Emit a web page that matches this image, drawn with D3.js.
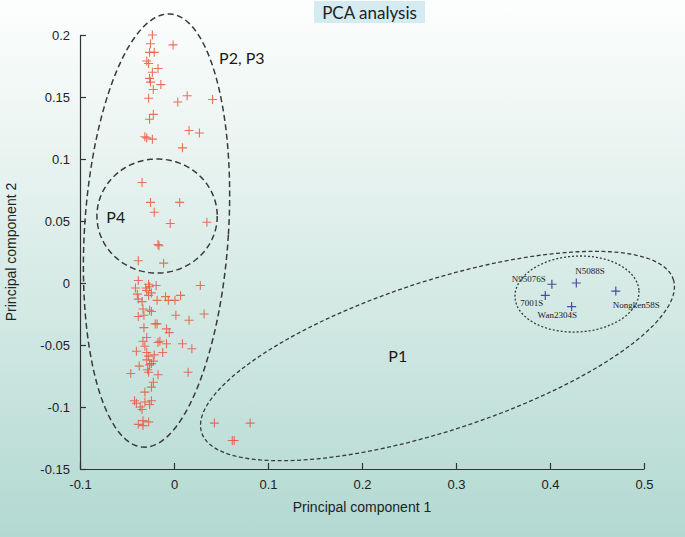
<!DOCTYPE html>
<html>
<head>
<meta charset="utf-8">
<script src="https://cdn.jsdelivr.net/npm/d3@7"></script>
<style>
  html, body { margin: 0; padding: 0; }
  svg { display: block; }
</style>
</head>
<body>
<script>
// ---------------- DATA ----------------
const title = "PCA analysis";
const xLabel = "Principal component 1";
const yLabel = "Principal component 2";
const xTicks = [-0.1, 0, 0.1, 0.2, 0.3, 0.4, 0.5];
const yTicks = [0.2, 0.15, 0.1, 0.05, 0, -0.05, -0.1, -0.15];
const xTickLabels = ["-0.1", "0", "0.1", "0.2", "0.3", "0.4", "0.5"];
const yTickLabels = ["0.2", "0.15", "0.1", "0.05", "0", "-0.05", "-0.1", "-0.15"];

// red samples: [PC1, PC2]
const redX = [
  -0.023,-0.025,-0.001,-0.026,-0.021,-0.029,-0.027,-0.017,-0.023,-0.026,
  -0.025,-0.014,-0.022,0.014,-0.027,0.004,0.041,-0.022,-0.026,0.016,
  0.027,-0.031,-0.029,-0.023,0.009,-0.034,-0.025,0.006,-0.021,-0.004,
  0.035,-0.017,-0.016,-0.038,-0.011,
  -0.038,-0.041,-0.027,-0.030,-0.026,-0.019,-0.029,-0.039,-0.027,-0.024,
  -0.038,-0.034,-0.018,-0.009,-0.006,0.001,0.007,0.028,-0.033,-0.026,
  -0.024,-0.038,-0.032,0.002,0.016,0.032,-0.018,-0.020,-0.032,-0.008,
  -0.005,-0.029,-0.033,-0.031,-0.017,-0.015,-0.008,0.009,0.019,-0.040,
  -0.029,-0.027,-0.021,-0.012,-0.029,-0.024,-0.022,-0.026,-0.037,-0.046,
  -0.028,-0.027,-0.017,0.015,-0.022,-0.024,-0.031,-0.042,-0.040,-0.031,
  -0.024,-0.026,-0.036,-0.034,-0.033,-0.038,-0.027,-0.033,
  0.043,0.081,0.062,0.064
];
const redY = [
  0.200,0.193,0.192,0.186,0.186,0.179,0.177,0.173,0.170,0.165,
  0.162,0.160,0.156,0.151,0.149,0.146,0.148,0.136,0.132,0.123,
  0.121,0.118,0.117,0.116,0.109,0.081,0.065,0.065,0.057,0.048,
  0.049,0.031,0.030,0.018,0.016,
  0.002,-0.004,-0.001,-0.004,-0.003,-0.002,-0.006,-0.009,-0.010,-0.008,
  -0.013,-0.015,-0.014,-0.011,-0.014,-0.014,-0.010,-0.002,-0.021,-0.022,
  -0.023,-0.027,-0.026,-0.026,-0.030,-0.025,-0.033,-0.033,-0.036,-0.037,
  -0.040,-0.044,-0.047,-0.051,-0.048,-0.047,-0.049,-0.049,-0.053,-0.055,
  -0.056,-0.059,-0.058,-0.056,-0.062,-0.065,-0.063,-0.066,-0.067,-0.073,
  -0.070,-0.072,-0.074,-0.072,-0.080,-0.084,-0.088,-0.095,-0.097,-0.096,
  -0.095,-0.098,-0.100,-0.102,-0.111,-0.114,-0.112,-0.115,
  -0.113,-0.113,-0.127,-0.127
];

// named (blue) lines
const blueNames = ["N95076S", "N5088S", "7001S", "Wan2304S", "Nongken58S"];
const blueX = [0.402, 0.428, 0.395, 0.423, 0.470];
const blueY = [-0.001, 0.000, -0.010, -0.019, -0.0065];

// group ellipses (data units: centre, half-widths)
const groupNames = ["P2, P3", "P4", "P1", ""];
const ellCx = [-0.0186, -0.018, 0.2803, 0.4287];
const ellCy = [0.0423, 0.054, -0.0589, -0.0089];
const ellRx = [0.0766, 0.064, 0.2638, 0.066];
const ellRy = [0.175, 0.046, 0.0605, 0.0306];
const ellAngle = [3.6, 0, -18, -3];
// group label anchor (data units)
const groupLabelX = [0.048, -0.072, 0.228, null];
const groupLabelY = [0.177, 0.048, -0.064, null];

// ---------------- LAYOUT ----------------
const W = 685, H = 537;
const M = { left: 80, right: 685 - 644, top: 35, bottom: 537 - 469 };

const svg = d3.select("body").append("svg")
  .attr("width", W).attr("height", H)
  .attr("viewBox", `0 0 ${W} ${H}`);

const defs = svg.append("defs");
const grad = defs.append("linearGradient").attr("id", "bg")
  .attr("x1", 0).attr("y1", 0).attr("x2", 0).attr("y2", 1);
grad.append("stop").attr("offset", "0%").attr("stop-color", "#fdfefe");
grad.append("stop").attr("offset", "30%").attr("stop-color", "#e8f3f0");
grad.append("stop").attr("offset", "100%").attr("stop-color", "#b2d9d1");
svg.append("rect").attr("width", W).attr("height", H).attr("fill", "url(#bg)");

const x = d3.scaleLinear().domain([-0.1, 0.5]).range([M.left, W - M.right]);
const y = d3.scaleLinear().domain([-0.15, 0.2]).range([H - M.bottom, M.top]);

// title
const tg = svg.append("g");
tg.append("rect").attr("x", 314).attr("y", 1).attr("width", 111).attr("height", 22)
  .attr("fill", "#d3ebf1");
tg.append("text").attr("x", 369.5).attr("y", 18.5).attr("text-anchor", "middle")
  .attr("font-family", "Lato, 'Open Sans', sans-serif").attr("font-size", 17)
  .attr("fill", "#222").text(title);

// axes
const axisColor = "#333";
const xAxis = d3.axisBottom(x).tickValues(xTicks)
  .tickFormat((d, i) => xTickLabels[i]).tickSizeInner(-6).tickSizeOuter(0).tickPadding(8);
const yAxis = d3.axisLeft(y).tickValues(yTicks)
  .tickFormat((d, i) => yTickLabels[i]).tickSizeInner(-6).tickSizeOuter(0).tickPadding(10);

const gx = svg.append("g").attr("transform", `translate(0,${H - M.bottom})`).call(xAxis);
const gy = svg.append("g").attr("transform", `translate(${M.left},0)`).call(yAxis);
[gx, gy].forEach(g => {
  g.select(".domain").attr("stroke", axisColor).attr("stroke-width", 1.2);
  g.selectAll(".tick line").attr("stroke", axisColor).attr("stroke-width", 1.2);
  g.selectAll(".tick text").attr("font-family", "'Liberation Sans', Arial, sans-serif")
    .attr("font-size", 13).attr("fill", "#222");
});
gx.selectAll(".tick text").attr("dy", "0.9em");

svg.append("text").attr("x", (x.range()[0] + x.range()[1]) / 2).attr("y", 512)
  .attr("text-anchor", "middle").attr("font-family", "'Liberation Sans', Arial, sans-serif")
  .attr("font-size", 14).attr("fill", "#222").text(xLabel);
svg.append("text").attr("transform", `translate(16,${(y.range()[0] + y.range()[1]) / 2}) rotate(-90)`)
  .attr("text-anchor", "middle").attr("font-family", "'Liberation Sans', Arial, sans-serif")
  .attr("font-size", 14).attr("fill", "#222").text(yLabel);

// ellipses
const dashes = ["6,3.5", "6,3.5", "4,2.5", "2,2"];
const widths = [1.5, 1.5, 1.3, 1.3];
const line = d3.line();
groupNames.forEach((nm, i) => {
  const cx = x(ellCx[i]), cy = y(ellCy[i]);
  const rx = x(ellCx[i] + ellRx[i]) - cx;
  const ry = cy - y(ellCy[i] + ellRy[i]);
  const a = ellAngle[i] * Math.PI / 180;
  const pts = d3.range(0, 361, 2).map(deg => {
    const t = deg * Math.PI / 180;
    const px = rx * Math.cos(t), py = ry * Math.sin(t);
    return [cx + px * Math.cos(a) - py * Math.sin(a), cy + px * Math.sin(a) + py * Math.cos(a)];
  });
  svg.append("path").attr("d", line(pts) + "Z").attr("fill", "none")
    .attr("stroke", "#3a3a3a").attr("stroke-width", widths[i]).attr("stroke-dasharray", dashes[i]);
  if (nm) {
    svg.append("text").attr("x", x(groupLabelX[i])).attr("y", y(groupLabelY[i]))
      .attr("font-family", "Lato, 'Open Sans', sans-serif").attr("font-size", 16)
      .attr("fill", "#1a1a1a").text(nm);
  }
});

// markers
function plus(g, px, py, s, color, w, op) {
  g.append("path").attr("d", `M${px - s},${py}H${px + s}M${px},${py - s}V${py + s}`)
    .attr("stroke", color).attr("stroke-width", w).attr("stroke-opacity", op).attr("fill", "none");
}
const gr = svg.append("g");
redX.forEach((v, i) => plus(gr, x(v), y(redY[i]), 4.5, "#e65a40", 1.1, 0.85));

const gb = svg.append("g");
blueX.forEach((v, i) => plus(gb, x(v), y(blueY[i]), 4.5, "#4a4aa0", 1.2, 1));

// blue labels
const lblDx = [-6, -1, -25, -34, -3];
const lblDy = [-2, -9, 11, 11, 17];
const lblAnchor = ["end", "start", "start", "start", "start"];
blueNames.forEach((nm, i) => {
  svg.append("text").attr("x", x(blueX[i]) + lblDx[i]).attr("y", y(blueY[i]) + lblDy[i])
    .attr("text-anchor", lblAnchor[i])
    .attr("font-family", "'Liberation Serif', 'Times New Roman', serif").attr("font-size", 9)
    .attr("fill", "#222").text(nm);
});
</script>
</body>
</html>
